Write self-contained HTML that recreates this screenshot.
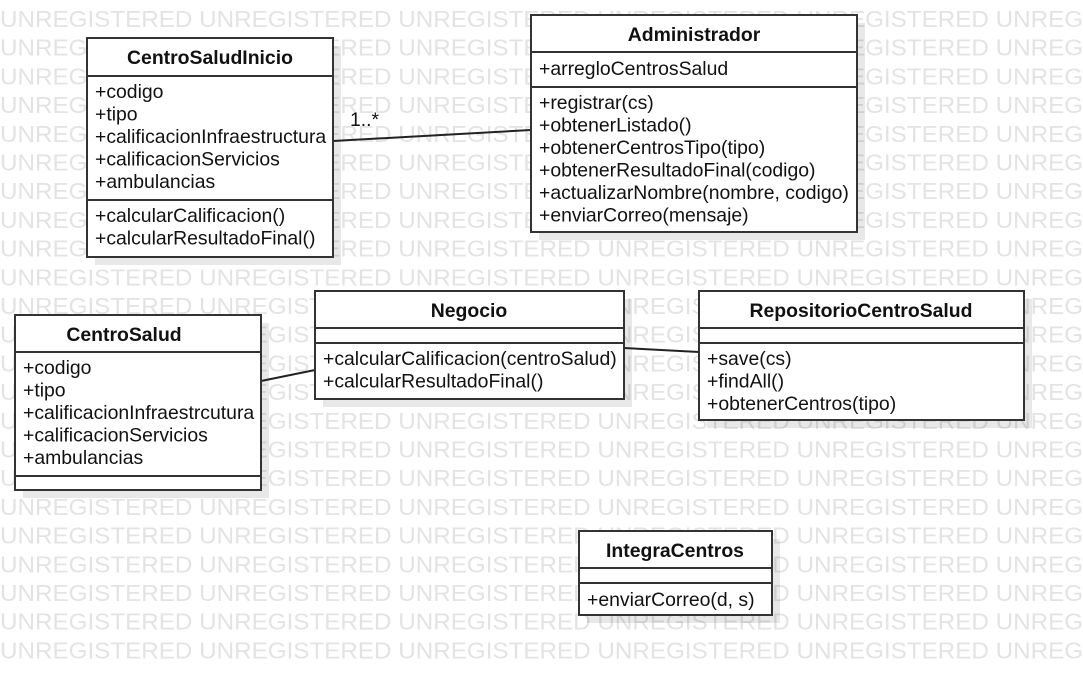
<!DOCTYPE html>
<html><head><meta charset="utf-8"><style>
html,body{margin:0;padding:0;background:#fff;width:1083px;height:676px;overflow:hidden}
svg{display:block}
.wm{font-family:"Liberation Sans",sans-serif;font-size:23px;fill:#e3e3e3}
.t{font-family:"Liberation Sans",sans-serif;font-size:19.4px;fill:#111}
.b{font-family:"Liberation Sans",sans-serif;font-size:19.4px;font-weight:bold;fill:#111}
.box{fill:#fff;stroke:#333;stroke-width:2}
.sh{fill:#000;opacity:0.09}
</style></head><body>
<svg width="1083" height="676" xmlns="http://www.w3.org/2000/svg">
<g class="wm">
<text x="0" y="27" textLength="1188" lengthAdjust="spacingAndGlyphs">UNREGISTERED UNREGISTERED UNREGISTERED UNREGISTERED UNREGISTERED UNREGISTERED</text>
<text x="0" y="55.7" textLength="1188" lengthAdjust="spacingAndGlyphs">UNREGISTERED UNREGISTERED UNREGISTERED UNREGISTERED UNREGISTERED UNREGISTERED</text>
<text x="0" y="84.4" textLength="1188" lengthAdjust="spacingAndGlyphs">UNREGISTERED UNREGISTERED UNREGISTERED UNREGISTERED UNREGISTERED UNREGISTERED</text>
<text x="0" y="113.1" textLength="1188" lengthAdjust="spacingAndGlyphs">UNREGISTERED UNREGISTERED UNREGISTERED UNREGISTERED UNREGISTERED UNREGISTERED</text>
<text x="0" y="141.8" textLength="1188" lengthAdjust="spacingAndGlyphs">UNREGISTERED UNREGISTERED UNREGISTERED UNREGISTERED UNREGISTERED UNREGISTERED</text>
<text x="0" y="170.5" textLength="1188" lengthAdjust="spacingAndGlyphs">UNREGISTERED UNREGISTERED UNREGISTERED UNREGISTERED UNREGISTERED UNREGISTERED</text>
<text x="0" y="199.2" textLength="1188" lengthAdjust="spacingAndGlyphs">UNREGISTERED UNREGISTERED UNREGISTERED UNREGISTERED UNREGISTERED UNREGISTERED</text>
<text x="0" y="227.9" textLength="1188" lengthAdjust="spacingAndGlyphs">UNREGISTERED UNREGISTERED UNREGISTERED UNREGISTERED UNREGISTERED UNREGISTERED</text>
<text x="0" y="256.6" textLength="1188" lengthAdjust="spacingAndGlyphs">UNREGISTERED UNREGISTERED UNREGISTERED UNREGISTERED UNREGISTERED UNREGISTERED</text>
<text x="0" y="285.3" textLength="1188" lengthAdjust="spacingAndGlyphs">UNREGISTERED UNREGISTERED UNREGISTERED UNREGISTERED UNREGISTERED UNREGISTERED</text>
<text x="0" y="314" textLength="1188" lengthAdjust="spacingAndGlyphs">UNREGISTERED UNREGISTERED UNREGISTERED UNREGISTERED UNREGISTERED UNREGISTERED</text>
<text x="0" y="342.7" textLength="1188" lengthAdjust="spacingAndGlyphs">UNREGISTERED UNREGISTERED UNREGISTERED UNREGISTERED UNREGISTERED UNREGISTERED</text>
<text x="0" y="371.4" textLength="1188" lengthAdjust="spacingAndGlyphs">UNREGISTERED UNREGISTERED UNREGISTERED UNREGISTERED UNREGISTERED UNREGISTERED</text>
<text x="0" y="400.1" textLength="1188" lengthAdjust="spacingAndGlyphs">UNREGISTERED UNREGISTERED UNREGISTERED UNREGISTERED UNREGISTERED UNREGISTERED</text>
<text x="0" y="428.8" textLength="1188" lengthAdjust="spacingAndGlyphs">UNREGISTERED UNREGISTERED UNREGISTERED UNREGISTERED UNREGISTERED UNREGISTERED</text>
<text x="0" y="457.5" textLength="1188" lengthAdjust="spacingAndGlyphs">UNREGISTERED UNREGISTERED UNREGISTERED UNREGISTERED UNREGISTERED UNREGISTERED</text>
<text x="0" y="486.2" textLength="1188" lengthAdjust="spacingAndGlyphs">UNREGISTERED UNREGISTERED UNREGISTERED UNREGISTERED UNREGISTERED UNREGISTERED</text>
<text x="0" y="514.9" textLength="1188" lengthAdjust="spacingAndGlyphs">UNREGISTERED UNREGISTERED UNREGISTERED UNREGISTERED UNREGISTERED UNREGISTERED</text>
<text x="0" y="543.6" textLength="1188" lengthAdjust="spacingAndGlyphs">UNREGISTERED UNREGISTERED UNREGISTERED UNREGISTERED UNREGISTERED UNREGISTERED</text>
<text x="0" y="572.3" textLength="1188" lengthAdjust="spacingAndGlyphs">UNREGISTERED UNREGISTERED UNREGISTERED UNREGISTERED UNREGISTERED UNREGISTERED</text>
<text x="0" y="601" textLength="1188" lengthAdjust="spacingAndGlyphs">UNREGISTERED UNREGISTERED UNREGISTERED UNREGISTERED UNREGISTERED UNREGISTERED</text>
<text x="0" y="629.7" textLength="1188" lengthAdjust="spacingAndGlyphs">UNREGISTERED UNREGISTERED UNREGISTERED UNREGISTERED UNREGISTERED UNREGISTERED</text>
<text x="0" y="658.4" textLength="1188" lengthAdjust="spacingAndGlyphs">UNREGISTERED UNREGISTERED UNREGISTERED UNREGISTERED UNREGISTERED UNREGISTERED</text>
</g>
<!-- shadows -->
<rect class="sh" x="95" y="46" width="246" height="219"/>
<rect class="sh" x="539" y="23" width="326" height="217"/>
<rect class="sh" x="23" y="323" width="246" height="175"/>
<rect class="sh" x="323" y="299" width="309" height="108"/>
<rect class="sh" x="707" y="299" width="325" height="129"/>
<rect class="sh" x="587" y="539" width="193" height="84"/>
<!-- connectors -->
<line x1="333" y1="141" x2="531" y2="130" stroke="#222" stroke-width="2"/>
<text class="t" x="350" y="126">1..*</text>
<line x1="261" y1="381" x2="315" y2="370" stroke="#222" stroke-width="2"/>
<line x1="624" y1="348" x2="699" y2="352" stroke="#222" stroke-width="2"/>
<!-- CentroSaludInicio -->
<rect class="box" x="87" y="38" width="246" height="219"/>
<line x1="87" y1="76" x2="333" y2="76" stroke="#333" stroke-width="2"/>
<line x1="87" y1="200" x2="333" y2="200" stroke="#333" stroke-width="2"/>
<text class="b" x="210" y="64" text-anchor="middle">CentroSaludInicio</text>
<text class="t" x="95" y="98">+codigo</text>
<text class="t" x="95" y="120.5">+tipo</text>
<text class="t" x="95" y="143">+calificacionInfraestructura</text>
<text class="t" x="95" y="165.5">+calificacionServicios</text>
<text class="t" x="95" y="188">+ambulancias</text>
<text class="t" x="95" y="222">+calcularCalificacion()</text>
<text class="t" x="95" y="244.5">+calcularResultadoFinal()</text>
<!-- Administrador -->
<rect class="box" x="531" y="15" width="326" height="217"/>
<line x1="531" y1="52" x2="857" y2="52" stroke="#333" stroke-width="2"/>
<line x1="531" y1="87" x2="857" y2="87" stroke="#333" stroke-width="2"/>
<text class="b" x="694" y="41" text-anchor="middle">Administrador</text>
<text class="t" x="539" y="75">+arregloCentrosSalud</text>
<text class="t" x="539" y="109">+registrar(cs)</text>
<text class="t" x="539" y="131.5">+obtenerListado()</text>
<text class="t" x="539" y="154">+obtenerCentrosTipo(tipo)</text>
<text class="t" x="539" y="176.5">+obtenerResultadoFinal(codigo)</text>
<text class="t" x="539" y="199">+actualizarNombre(nombre, codigo)</text>
<text class="t" x="539" y="221.5">+enviarCorreo(mensaje)</text>
<!-- CentroSalud -->
<rect class="box" x="15" y="315" width="246" height="175"/>
<line x1="15" y1="352" x2="261" y2="352" stroke="#333" stroke-width="2"/>
<line x1="15" y1="476" x2="261" y2="476" stroke="#333" stroke-width="2"/>
<text class="b" x="124" y="341" text-anchor="middle">CentroSalud</text>
<text class="t" x="23" y="374">+codigo</text>
<text class="t" x="23" y="396.5">+tipo</text>
<text class="t" x="23" y="419">+calificacionInfraestrcutura</text>
<text class="t" x="23" y="441.5">+calificacionServicios</text>
<text class="t" x="23" y="464">+ambulancias</text>
<!-- Negocio -->
<rect class="box" x="315" y="291" width="309" height="108"/>
<line x1="315" y1="328" x2="624" y2="328" stroke="#333" stroke-width="2"/>
<line x1="315" y1="343" x2="624" y2="343" stroke="#333" stroke-width="2"/>
<text class="b" x="469" y="317" text-anchor="middle">Negocio</text>
<text class="t" x="323" y="365">+calcularCalificacion(centroSalud)</text>
<text class="t" x="323" y="387.5">+calcularResultadoFinal()</text>
<!-- Repositorio -->
<rect class="box" x="699" y="291" width="325" height="129"/>
<line x1="699" y1="328" x2="1024" y2="328" stroke="#333" stroke-width="2"/>
<line x1="699" y1="343" x2="1024" y2="343" stroke="#333" stroke-width="2"/>
<text class="b" x="861" y="317" text-anchor="middle">RepositorioCentroSalud</text>
<text class="t" x="707" y="365">+save(cs)</text>
<text class="t" x="707" y="387.5">+findAll()</text>
<text class="t" x="707" y="410">+obtenerCentros(tipo)</text>
<!-- IntegraCentros -->
<rect class="box" x="579" y="531" width="193" height="84"/>
<line x1="579" y1="568" x2="772" y2="568" stroke="#333" stroke-width="2"/>
<line x1="579" y1="583" x2="772" y2="583" stroke="#333" stroke-width="2"/>
<text class="b" x="675" y="557" text-anchor="middle">IntegraCentros</text>
<text class="t" x="587" y="606">+enviarCorreo(d, s)</text>
</svg>
</body></html>
